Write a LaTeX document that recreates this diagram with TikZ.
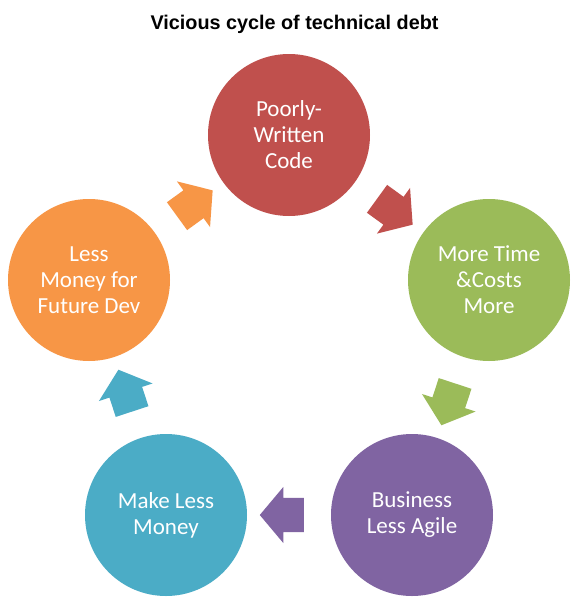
\documentclass[tikz,border=0pt]{standalone}
\usepackage{fontspec}
\setmainfont{Carlito}
\newfontfamily\titlefont{Liberation Sans}
\usetikzlibrary{shapes.arrows}
\definecolor{cred}{HTML}{C0504D}
\definecolor{cgreen}{HTML}{9BBB59}
\definecolor{cpurple}{HTML}{8064A2}
\definecolor{cteal}{HTML}{4BACC6}
\definecolor{corange}{HTML}{F79646}
\newcommand{\shaftrule}{\rule{0pt}{34pt}}
\tikzset{
  bubble/.style={circle, minimum size=162pt, inner sep=0pt, text=white, align=center,
    font=\fontsize{23}{26}\selectfont},
  blockarrow/.style={single arrow, draw=none, inner sep=0pt, minimum height=44pt,
    single arrow head extend=11pt, single arrow tip angle=100,
    sloped, allow upside down, midway},
  titletext/.style={font=\titlefont\bfseries\fontsize{19.8}{24}\selectfont, inner sep=0pt}
}
\begin{document}
\begin{tikzpicture}[x=1pt,y=-1pt]
\useasboundingbox[fill=white] (0,0) rectangle (581,600);
\node[titletext] (title) at (294.5,24) {Vicious cycle of technical debt};
\node[bubble, fill=cred]    (c1) at (289,135) {Poorly-\\Written\\Code};
\node[bubble, fill=cgreen]  (c2) at (489,280) {More Time\\\&Costs\\More};
\node[bubble, fill=cpurple] (c3) at (412,515) {Business\\Less Agile};
\node[bubble, fill=cteal]   (c4) at (166,515) {Make Less\\Money};
\node[bubble, fill=corange] (c5) at (89,280)  {Less\\Money for\\Future Dev};
\path (c1.center) -- node[blockarrow, fill=cred] (a1) {\shaftrule} (c2.center);
\path (c2.center) -- node[blockarrow, fill=cgreen] (a2) {\shaftrule} (c3.center);
\path (c3.center) -- node[blockarrow, fill=cpurple] (a3) {\shaftrule} (c4.center);
\path (c4.center) -- node[blockarrow, fill=cteal] (a4) {\shaftrule} (c5.center);
\path (c5.center) -- node[blockarrow, fill=corange] (a5) {\shaftrule} (c1.center);
\end{tikzpicture}
\end{document}
